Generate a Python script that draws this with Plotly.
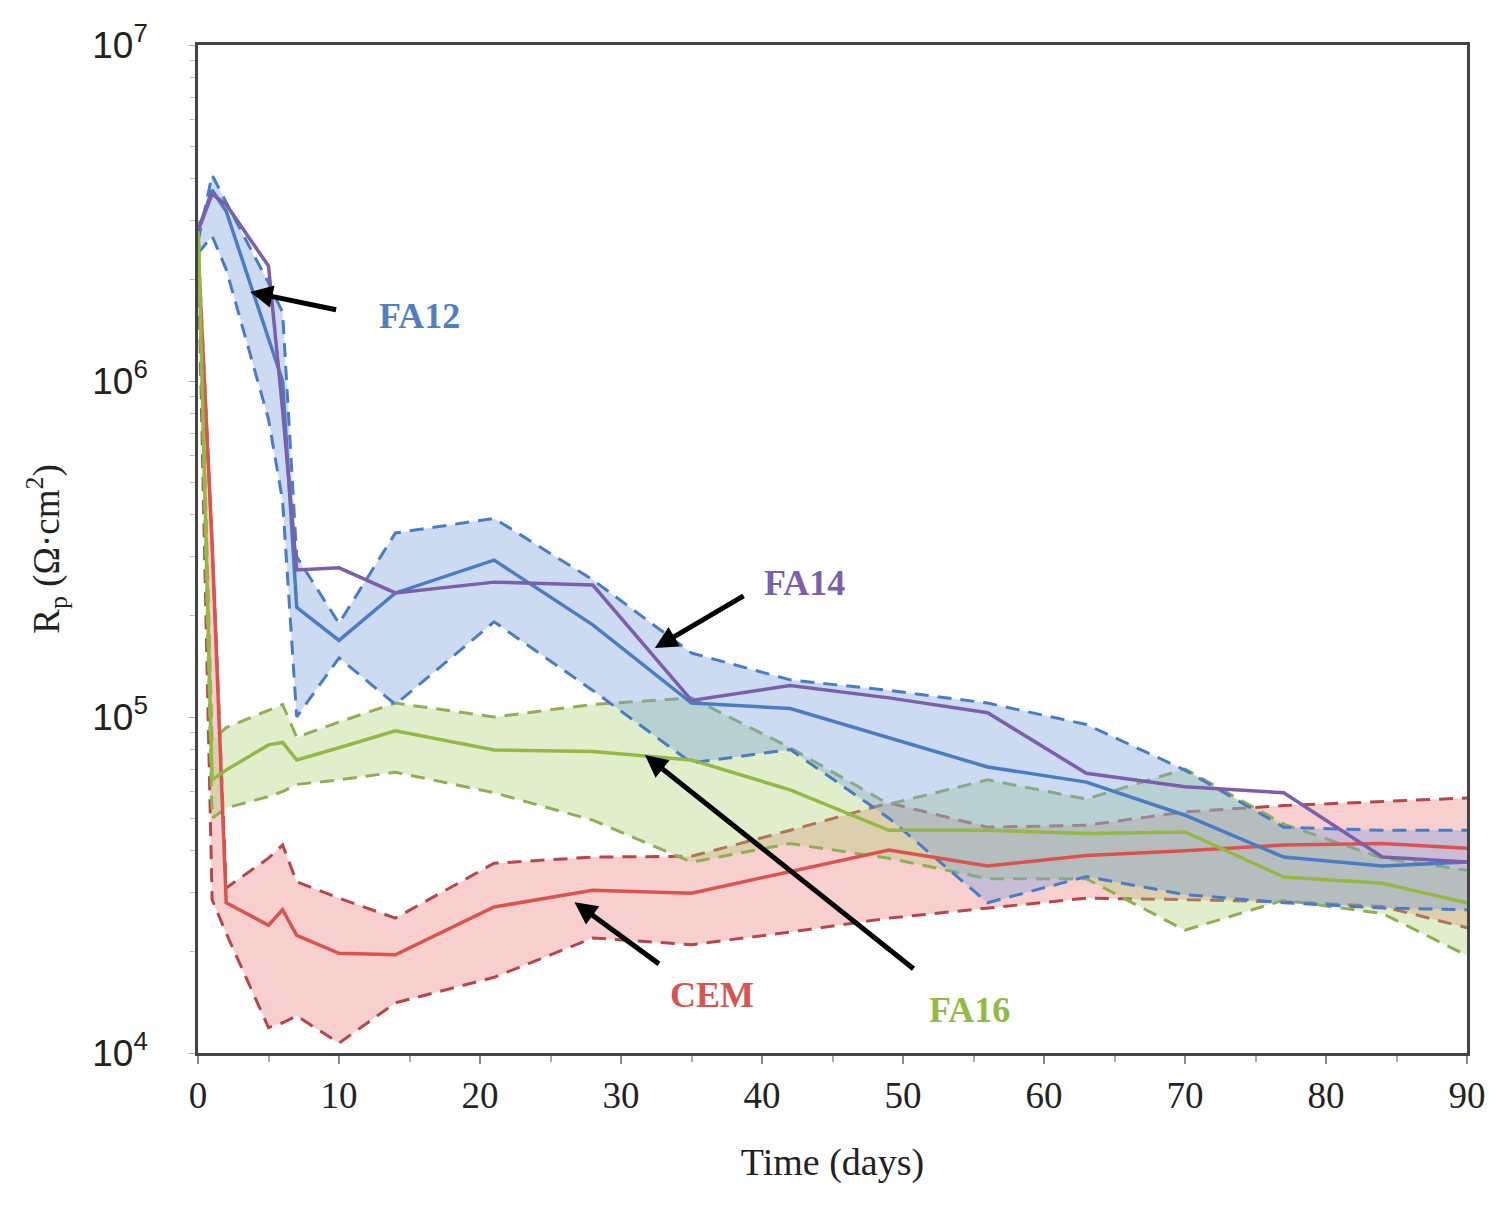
import plotly.graph_objects as go

T = [0, 1, 2, 5, 6, 7, 10, 14, 21, 28, 35, 42, 49, 56, 63, 70, 77, 84, 90]

cem_mean = [2.5e6, 3.3e5, 2.8e4, 2.4e4, 2.67e4, 2.24e4, 1.98e4, 1.96e4, 2.72e4, 3.05e4,
            2.99e4, 3.46e4, 4.02e4, 3.6e4, 3.87e4, 4.0e4, 4.16e4, 4.2e4, 4.07e4]
cem_up = [2.6e6, 3.3e5, 3.1e4, 3.8e4, 4.16e4, 3.23e4, 2.89e4, 2.52e4, 3.67e4, 3.83e4,
          3.85e4, 4.6e4, 5.55e4, 4.7e4, 4.76e4, 5.22e4, 5.45e4, 5.6e4, 5.74e4]
cem_lo = [2.5e6, 2.86e4, 2.27e4, 1.19e4, 1.23e4, 1.29e4, 1.07e4, 1.41e4, 1.68e4, 2.2e4,
          2.1e4, 2.29e4, 2.52e4, 2.7e4, 2.89e4, 2.86e4, 2.82e4, 2.73e4, 2.36e4]

fa12_mean = [2.8e6, 3.7e6, 3.2e6, 1.32e6, 1.0e6, 2.12e5, 1.69e5, 2.34e5, 2.93e5, 1.88e5,
             1.1e5, 1.06e5, 8.66e4, 7.1e4, 6.4e4, 5.1e4, 3.83e4, 3.6e4, 3.7e4]
fa12_up = [2.6e6, 4.1e6, 3.4e6, 1.96e6, 1.6e6, 3.0e5, 1.9e5, 3.53e5, 3.9e5, 2.56e5,
           1.55e5, 1.29e5, 1.2e5, 1.1e5, 9.5e4, 6.95e4, 4.7e4, 4.6e4, 4.6e4]
fa12_lo = [2.4e6, 2.7e6, 2.15e6, 7.7e5, 4.4e5, 1.0e5, 1.5e5, 1.09e5, 1.92e5, 1.2e5,
           7.3e4, 8.0e4, 5.0e4, 2.8e4, 3.35e4, 2.96e4, 2.8e4, 2.7e4, 2.67e4]

fa14_mean = [2.8e6, 3.6e6, 3.35e6, 2.2e6, 8.2e5, 2.74e5, 2.78e5, 2.34e5, 2.52e5, 2.47e5,
             1.12e5, 1.24e5, 1.14e5, 1.03e5, 6.8e4, 6.2e4, 5.95e4, 3.83e4, 3.7e4]

fa16_mean = [3.0e6, 6.5e4, 6.95e4, 8.26e4, 8.4e4, 7.45e4, 8.1e4, 9.1e4, 7.98e4, 7.9e4,
             7.45e4, 6.07e4, 4.6e4, 4.6e4, 4.5e4, 4.55e4, 3.34e4, 3.2e4, 2.8e4]
fa16_up = [3.0e6, 8.5e4, 9.3e4, 1.05e5, 1.09e5, 8.7e4, 9.66e4, 1.1e5, 1.0e5, 1.09e5,
           1.14e5, 8.1e4, 5.5e4, 6.5e4, 5.7e4, 7.0e4, 4.8e4, 3.8e4, 3.5e4]
fa16_lo = [3.0e6, 5.0e4, 5.36e4, 5.8e4, 6.0e4, 6.3e4, 6.5e4, 6.85e4, 5.95e4, 4.93e4,
           3.7e4, 4.2e4, 3.8e4, 3.3e4, 3.3e4, 2.32e4, 2.85e4, 2.6e4, 1.95e4]

RED, RED_D, RED_F = "#d9534f", "#b5474a", "rgba(236,130,130,0.38)"
BLUE, BLUE_D, BLUE_F = "#4a7cc4", "#4a7cc4", "rgba(120,160,220,0.38)"
GREEN, GREEN_D, GREEN_F = "#93b944", "#8fae55", "rgba(170,205,110,0.35)"
PURPLE = "#7b5fab"
DASH = "14px,9px"

fig = go.Figure()

def band(lo, up, col, fillcol):
    fig.add_trace(go.Scatter(x=T, y=lo, mode="lines",
                             line=dict(color=col, width=3, dash=DASH), showlegend=False))
    fig.add_trace(go.Scatter(x=T, y=up, mode="lines", fill="tonexty", fillcolor=fillcol,
                             line=dict(color=col, width=3, dash=DASH), showlegend=False))

band(cem_lo, cem_up, RED_D, RED_F)
band(fa16_lo, fa16_up, GREEN_D, GREEN_F)
band(fa12_lo, fa12_up, BLUE_D, BLUE_F)

for y, c in [(cem_mean, RED), (fa16_mean, GREEN), (fa12_mean, BLUE), (fa14_mean, PURPLE)]:
    fig.add_trace(go.Scatter(x=T, y=y, mode="lines", line=dict(color=c, width=3.5), showlegend=False))

serif = "Liberation Serif, Times New Roman, serif"
sans = "Liberation Sans, Arial, sans-serif"

arrows = [
    # (head_x, head_logy, tail_x, tail_logy, text, text_x, text_logy, color)
    (3.7, 6.265, 9.9, 6.211, "FA12", 15.7, 6.193, "#4f7fc0"),
    (32.4, 5.205, 38.8, 5.363, "FA14", 43.0, 5.40, "#7b5fab"),
    (31.7, 4.887, 50.85, 4.247, "FA16", 54.75, 4.128, "#93b944"),
    (26.7, 4.449, 32.8, 4.262, "CEM", 36.45, 4.173, "#d9534f"),
]
for hx, hy, tx, ty, txt, lx, ly, col in arrows:
    fig.add_annotation(x=hx, y=hy, ax=tx, ay=ty, xref="x", yref="y", axref="x", ayref="y",
                       text="", showarrow=True, arrowhead=2, arrowsize=0.9, arrowwidth=5,
                       arrowcolor="black")
    fig.add_annotation(x=lx, y=ly, xref="x", yref="y", text="<b>%s</b>" % txt, showarrow=False,
                       font=dict(family=serif, size=36, color=col))

minor_vals = [m * 10 ** e for e in (4, 5, 6) for m in range(2, 10)]

fig.update_layout(
    width=1501, height=1209,
    margin=dict(l=198, r=34, t=45, b=156),
    paper_bgcolor="white", plot_bgcolor="white",
    xaxis=dict(range=[0, 90], tickvals=[0, 10, 20, 30, 40, 50, 60, 70, 80, 90],
               ticks="outside", ticklen=8, tickcolor="#888", tickwidth=1.5,
               minor=dict(tickvals=[5, 15, 25, 35, 45, 55, 65, 75, 85], ticks="outside",
                          ticklen=6, tickcolor="#aaa"),
               showline=True, linecolor="#444", linewidth=2.5, mirror=True,
               showgrid=False, zeroline=False,
               tickfont=dict(family=serif, size=37, color="#222"),
               title=dict(text="Time (days)", font=dict(family=serif, size=38, color="#222"),
                          standoff=34)),
    yaxis=dict(type="log", range=[4, 7], tickvals=[1e4, 1e5, 1e6, 1e7],
               ticktext=["10<sup>4</sup>", "10<sup>5</sup>", "10<sup>6</sup>", "10<sup>7</sup>"],
               ticks="outside", ticklen=6, tickcolor="#aaa",
               minor=dict(tickvals=minor_vals, ticks="outside", ticklen=5, tickcolor="#bbb"),
               showline=True, linecolor="#444", linewidth=2.5, mirror=True,
               showgrid=False, zeroline=False, ticklabelstandoff=34,
               tickfont=dict(family=sans, size=37, color="#222"),
               title=dict(text="R<sub>p</sub> (Ω·cm<sup>2</sup>)",
                          font=dict(family=serif, size=37, color="#222"), standoff=22)),
)

fig.write_html("out.html")
